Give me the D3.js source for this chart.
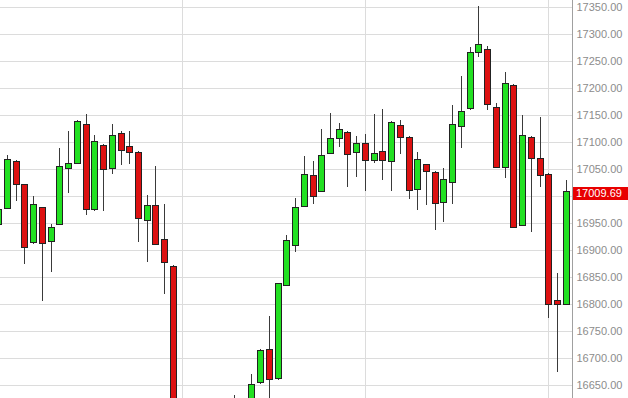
<!DOCTYPE html>
<meta charset="utf-8">
<style>

body {
  margin: 0;
  background: #fff;
  font: 11px "Liberation Sans", Arial, sans-serif;
}

.grid line {
  stroke: #dcdcdc;
  shape-rendering: crispEdges;
}

.axis path {
  stroke: #a0a0a0;
  shape-rendering: crispEdges;
}

.axis text {
  fill: #8c8c8c;
}

.wick {
  stroke: #3a3a3a;
  shape-rendering: crispEdges;
}

.body {
  stroke: #222;
  stroke-width: 1;
  shape-rendering: crispEdges;
}

</style>
<body>
<script src="https://d3js.org/d3.v7.min.js"></script>
<script>

// daily candles, oldest first (index = trading day)
var opens  = [16948,16977,17064,17022,16914,16979,16917,16949,17052,17061,
              17133,16975,17094,17051,17117,17093,17081,16955,16983,16921,
              16871,16580,16500,16530,16480,16450,16520,16570,16600,16590,
              16654,16717,16662,16836,16908,16981,17038,17010,17079,17108,
              17118,17083,17098,17066,17084,17064,17131,17110,17013,17059,
              17044,16988,17026,17130,17162,17267,17272,17165,17054,17206,
              16946,17109,17071,17041,16807,16800];
var highs  = [16978,17076,17066,17023,17000,16980,16949,17088,17121,17141,
              17151,17113,17096,17133,17121,17121,17083,17002,17056,16985,
              16873,16600,16560,16580,16520,16540,16600,16631,16620,16670,
              16717,16777,16838,16928,16996,17075,17064,17125,17154,17136,
              17120,17111,17114,17152,17161,17139,17140,17112,17081,17060,
              17046,17052,17168,17222,17276,17352,17278,17172,17229,17208,
              17150,17111,17146,17043,16857,17029];
var lows   = [16946,16977,16991,16874,16912,16806,16860,16948,17005,17059,
              16965,16973,16973,17041,17057,17059,16914,16878,16909,16818,
              16560,16470,16440,16460,16400,16420,16490,16540,16550,16580,
              16652,16600,16660,16835,16896,16980,16986,17008,17077,17091,
              17017,17035,17009,17061,17030,17009,17078,16994,16975,16983,
              16937,16951,16986,17088,17160,17258,17159,17052,17033,16941,
              16944,16934,17017,16775,16675,16798];
var closes = [16976,17068,17022,16905,16985,16912,16943,17056,17061,17139,
              16976,17101,17050,17113,17085,17082,16959,16983,16911,16878,
              16580,16500,16530,16480,16450,16520,16570,16600,16590,16652,
              16714,16661,16838,16919,16979,17040,16999,17076,17107,17124,
              17078,17099,17066,17079,17068,17137,17109,17012,17068,17046,
              16986,17031,17133,17157,17266,17281,17171,17054,17210,16943,
              17113,17070,17040,16801,16800,17009.69];

var priceTicks = d3.range(16650, 17351, 50);
var gridDays = [21, 42, 63];
var lastPrice = 17009.69;

var width = 628,
    height = 398,
    plotRight = 572;

var svg = d3.select("body").append("svg")
    .attr("width", width)
    .attr("height", height);

var x = d3.scaleLinear()
    .domain([0, opens.length - 1])
    .range([-1.7, 565.7]);

var y = d3.scaleLinear()
    .domain([16650, 17350])
    .range([385, 7]);

svg.append("defs").append("clipPath")
    .attr("id", "plot")
  .append("rect")
    .attr("width", plotRight)
    .attr("height", height);

// grid
var grid = svg.append("g").attr("class", "grid");

grid.selectAll(".h")
    .data(priceTicks)
  .enter().append("line")
    .attr("class", "h")
    .attr("x1", 0)
    .attr("x2", plotRight)
    .attr("y1", function(d) { return Math.round(y(d)) + 0.5; })
    .attr("y2", function(d) { return Math.round(y(d)) + 0.5; });

grid.selectAll(".v")
    .data(gridDays)
  .enter().append("line")
    .attr("class", "v")
    .attr("x1", function(d) { return Math.round(x(d)) + 0.5; })
    .attr("x2", function(d) { return Math.round(x(d)) + 0.5; })
    .attr("y1", 0)
    .attr("y2", height);

// candles
var candles = d3.range(opens.length).map(function(i) {
  return {i: i, o: opens[i], h: highs[i], l: lows[i], c: closes[i]};
});

var plot = svg.append("g").attr("clip-path", "url(#plot)");

var candle = plot.selectAll(".candle")
    .data(candles)
  .enter().append("g")
    .attr("class", "candle");

candle.append("line")
    .attr("class", "wick")
    .attr("x1", function(d) { return Math.round(x(d.i)) + 0.5; })
    .attr("x2", function(d) { return Math.round(x(d.i)) + 0.5; })
    .attr("y1", function(d) { return y(d.h); })
    .attr("y2", function(d) { return y(d.l); });

candle.append("rect")
    .attr("class", "body")
    .attr("x", function(d) { return Math.round(x(d.i)) - 2.5; })
    .attr("width", 6)
    .attr("y", function(d) { return Math.round(y(Math.max(d.o, d.c))) + 0.5; })
    .attr("height", function(d) { return Math.max(2, Math.round(y(Math.min(d.o, d.c)) - y(Math.max(d.o, d.c)))); })
    .style("fill", function(d) { return d.c >= d.o ? "#22e022" : "#dd1111"; });

// price axis
var axis = svg.append("g")
    .attr("class", "axis")
    .attr("transform", "translate(" + (plotRight + 0.5) + ",0)")
    .call(d3.axisRight(y)
      .tickValues(priceTicks)
      .tickFormat(d3.format(".2f"))
      .tickSize(0)
      .tickPadding(4));

axis.select(".domain").attr("d", "M0,0V" + height);
axis.selectAll("text").style("font-size", "11px").style("font-family", "\"Liberation Sans\", Arial, sans-serif");

// last price marker
var marker = svg.append("g")
    .attr("transform", "translate(" + (plotRight + 1) + "," + Math.round(y(lastPrice) + 2) + ")");

marker.append("rect")
    .attr("x", 0)
    .attr("y", -6)
    .attr("width", width - plotRight - 1)
    .attr("height", 13)
    .style("fill", "#e80000");

marker.append("text")
    .attr("x", 3)
    .attr("dy", "0.35em")
    .style("fill", "#fff")
    .style("font-size", "11px")
    .text(d3.format(".2f")(lastPrice));

</script>
